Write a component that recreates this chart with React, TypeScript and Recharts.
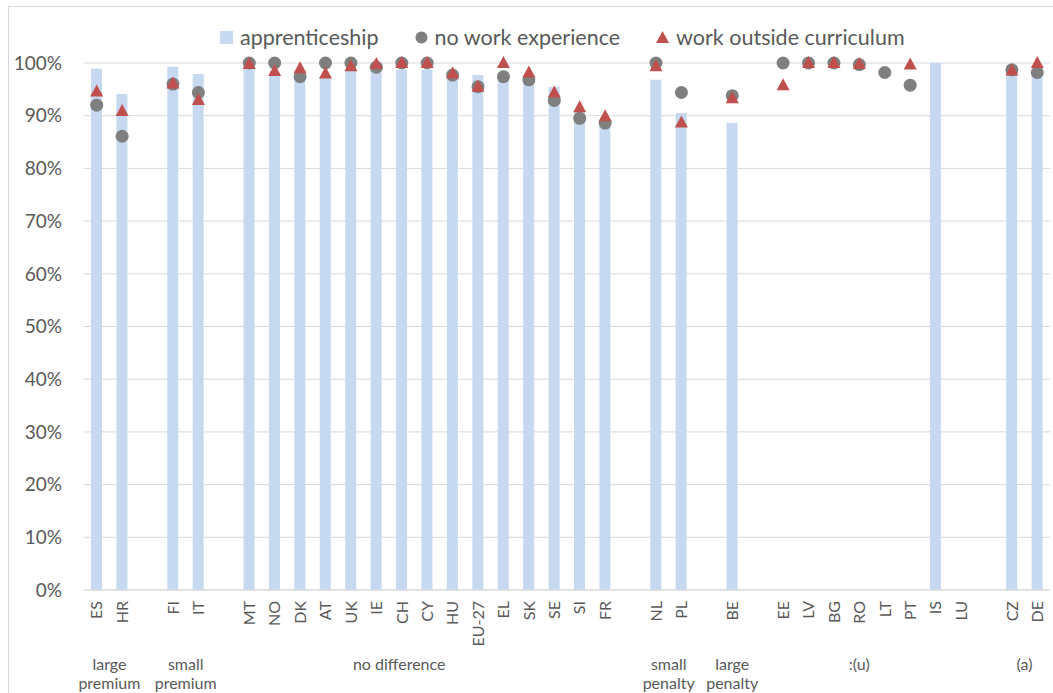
import React from "react";
import { ComposedChart, Bar, Line, XAxis, YAxis, CartesianGrid } from "recharts";

const categories = ["ES", "HR", "", "FI", "IT", "", "MT", "NO", "DK", "AT", "UK", "IE", "CH", "CY", "HU", "EU-27", "EL", "SK", "SE", "SI", "FR", "", "NL", "PL", "", "BE", "", "EE", "LV", "BG", "RO", "LT", "PT", "IS", "LU", "", "CZ", "DE"];

const apprenticeship = [98.9, 94.1, null, 99.3, 97.9, null, 100, 97.8, 97.5, 97.5, 98.7, 98.7, 98.7, 98.7, 97.1, 97.7, 97.5, 97.0, 95.5, 91.1, 89.2, null, 96.8, 90.5, null, 88.6, null, null, null, null, null, null, null, 100, null, null, 98.4, 98.2];

const noWorkExperience = [92.0, 86.1, null, 96.0, 94.4, null, 100, 100, 97.4, 100, 100, 99.2, 100, 100, 97.7, 95.5, 97.4, 96.8, 92.9, 89.5, 88.6, null, 100, 94.4, null, 93.8, null, 100, 100, 100, 99.7, 98.2, 95.8, null, null, null, 98.7, 98.2];

const workOutside = [94.6, 90.9, null, 96.1, 93.0, null, 99.8, 98.5, 99.0, 98.0, 99.4, 99.8, 100, 100, 98.0, 95.5, 100, 98.2, 94.4, 91.6, 89.9, null, 99.4, 88.7, null, 93.3, null, 95.8, 100, 100, 99.8, null, 99.7, null, null, null, 98.6, 100];

const yTicks = [0, 10, 20, 30, 40, 50, 60, 70, 80, 90, 100];

// group captions below the country codes; "at" is a slot index (can be fractional)
const groups = [
  { lines: ["large", "premium"], at: 0.5 },
  { lines: ["small", "premium"], at: 3.5 },
  { lines: ["no difference"], at: 11.9 },
  { lines: ["small", "penalty"], at: 22.5 },
  { lines: ["large", "penalty"], at: 25 },
  { lines: [":(u)"], at: 30 },
  { lines: ["(a)"], at: 36.5 },
];

const data = categories.map((name, i) => ({
  name,
  appr: apprenticeship[i],
  nwe: noWorkExperience[i],
  woc: workOutside[i],
}));

const W = 1053;
const H = 693;
const LEFT = 84;
const RIGHT = 3;
const SLOT = (W - LEFT - RIGHT) / categories.length;
const FONT = "Lato, 'Open Sans', sans-serif";
const TEXT = "#595959";

const CategoryTick = (props: any) => {
  const { x, y, payload, index } = props;
  const captions = groups.filter((g) => Math.floor(g.at) === index);
  return (
    <g>
      {payload.value ? (
        <text
          x={x}
          y={y}
          transform={`rotate(-90, ${x}, ${y})`}
          textAnchor="end"
          dy="0.36em"
          fontSize={16}
          fill={TEXT}
          fontFamily={FONT}
        >
          {payload.value}
        </text>
      ) : null}
      {captions.map((g, gi) => (
        <text
          key={gi}
          x={x + (g.at - index) * SLOT}
          y={y + 69}
          textAnchor="middle"
          fontSize={16}
          fill={TEXT}
          fontFamily={FONT}
        >
          {g.lines.map((l, li) => (
            <tspan key={li} x={x + (g.at - index) * SLOT} dy={li === 0 ? 0 : 19}>
              {l}
            </tspan>
          ))}
        </text>
      ))}
    </g>
  );
};

const Circle = (props: any) => {
  const { cx, cy, value, index } = props;
  if (value == null || cy == null) return <g key={`c-${index}`} />;
  return <circle key={`c-${index}`} cx={cx} cy={cy} r={6.5} fill="#7F7F7F" />;
};

const Tri = (props: any) => {
  const { cx, cy, value, index } = props;
  if (value == null || cy == null) return <g key={`t-${index}`} />;
  const pts = `${cx},${cy - 7} ${cx + 6.5},${cy + 5} ${cx - 6.5},${cy + 5}`;
  return <polygon key={`t-${index}`} points={pts} fill="#C0504D" />;
};

const legendItems = [
  { label: "apprenticeship", icon: <rect x={0} y={1} width={13} height={13} fill="#C6D9F1" /> },
  { label: "no work experience", icon: <circle cx={6.5} cy={7.5} r={6} fill="#7F7F7F" /> },
  { label: "work outside curriculum", icon: <polygon points="6.5,1 13,13 0,13" fill="#C0504D" /> },
];

export default function App() {
  return (
    <div style={{ position: "absolute", top: 0, left: 0, width: W, height: H, overflow: "hidden", background: "#fff" }}>
      <div style={{ position: "absolute", left: 8, top: 6, width: W, height: H, border: "1px solid #D9D9D9" }} />
      <div
        style={{
          position: "absolute",
          left: 220,
          top: 24,
          display: "flex",
          alignItems: "center",
          gap: 36,
          fontFamily: FONT,
          fontSize: 21.5,
          color: TEXT,
          whiteSpace: "nowrap",
        }}
      >
        {legendItems.map((it) => (
          <div key={it.label} style={{ display: "flex", alignItems: "center", gap: 7 }}>
            <svg width={13} height={15}>{it.icon}</svg>
            <span>{it.label}</span>
          </div>
        ))}
      </div>
      <ComposedChart
        width={W}
        height={H}
        data={data}
        margin={{ top: 63, right: RIGHT, bottom: 0, left: 0 }}
        style={{ position: "absolute", top: 0, left: 0 }}
      >
        <CartesianGrid vertical={false} stroke="#D9D9D9" />
        <XAxis
          dataKey="name"
          interval={0}
          height={103}
          tickLine={false}
          axisLine={{ stroke: "#D9D9D9" }}
          tickSize={0}
          tickMargin={11}
          tick={<CategoryTick />}
        />
        <YAxis
          width={LEFT}
          domain={[0, 100]}
          ticks={yTicks}
          tickFormatter={(v) => `${v}%`}
          axisLine={false}
          tickLine={false}
          tickSize={0}
          tickMargin={22}
          tick={{ fontSize: 19, fill: TEXT, fontFamily: FONT }}
        />
        <Bar dataKey="appr" fill="#C6D9F1" barSize={11} isAnimationActive={false} />
        <Line dataKey="nwe" stroke="none" dot={Circle} activeDot={false} isAnimationActive={false} />
        <Line dataKey="woc" stroke="none" dot={Tri} activeDot={false} isAnimationActive={false} />
      </ComposedChart>
    </div>
  );
}
